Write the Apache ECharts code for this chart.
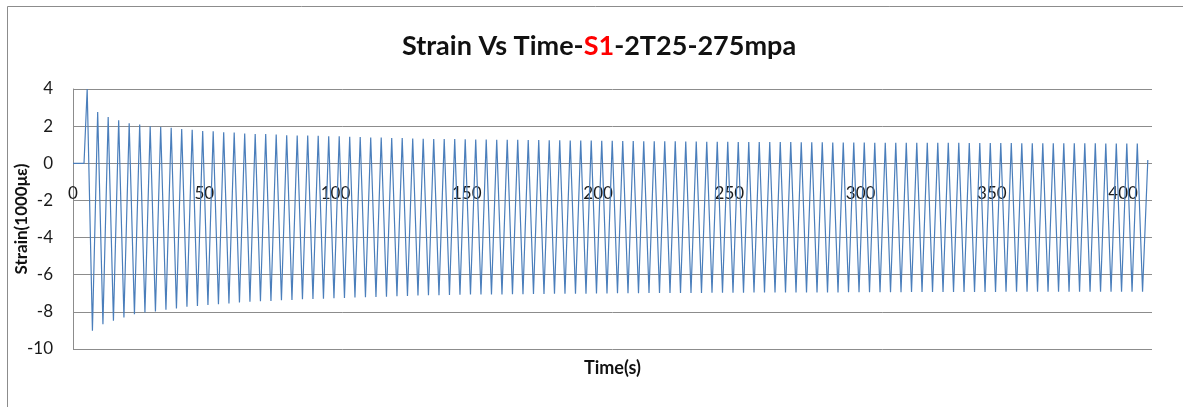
<!DOCTYPE html>
<html>
<head>
<meta charset="utf-8">
<script src="https://cdn.jsdelivr.net/npm/echarts@6/dist/echarts.min.js"></script>
<style>
html,body{margin:0;padding:0;background:#fff;}
#chart{width:1183px;height:407px;}
</style>
</head>
<body>
<div id="chart"></div>
<script>
// ---- data ----
const startTime = [0, 4.2];
const startStrain = [0, 0];

const peakTime = [
  5.4,9.4,13.4,17.4,21.4,25.4,29.4,33.4,37.4,41.4,
  45.4,49.4,53.4,57.4,61.4,65.4,69.4,73.4,77.4,81.4,
  85.4,89.4,93.4,97.4,101.4,105.4,109.4,113.4,117.4,121.4,
  125.4,129.4,133.4,137.4,141.4,145.4,149.4,153.4,157.4,161.4,
  165.4,169.4,173.4,177.4,181.4,185.4,189.4,193.4,197.4,201.4,
  205.4,209.4,213.4,217.4,221.4,225.4,229.4,233.4,237.4,241.4,
  245.4,249.4,253.4,257.4,261.4,265.4,269.4,273.4,277.4,281.4,
  285.4,289.4,293.4,297.4,301.4,305.4,309.4,313.4,317.4,321.4,
  325.4,329.4,333.4,337.4,341.4,345.4,349.4,353.4,357.4,361.4,
  365.4,369.4,373.4,377.4,381.4,385.4,389.4,393.4,397.4,401.4,
  405.4
];
const peakStrain = [
  4.00,2.76,2.49,2.31,2.16,2.09,2.00,1.95,1.91,1.84,
  1.80,1.74,1.72,1.67,1.65,1.60,1.57,1.57,1.55,1.51,
  1.50,1.50,1.48,1.46,1.46,1.43,1.41,1.39,1.39,1.36,
  1.36,1.34,1.32,1.31,1.30,1.30,1.29,1.28,1.28,1.27,
  1.27,1.26,1.25,1.25,1.24,1.24,1.23,1.23,1.22,1.21,
  1.21,1.20,1.20,1.19,1.19,1.18,1.18,1.17,1.17,1.16,
  1.16,1.16,1.15,1.15,1.15,1.14,1.14,1.14,1.13,1.13,
  1.13,1.12,1.12,1.12,1.12,1.11,1.11,1.11,1.11,1.10,
  1.10,1.10,1.10,1.10,1.09,1.09,1.09,1.09,1.09,1.08,
  1.08,1.08,1.08,1.08,1.08,1.08,1.08,1.07,1.07,1.07,
  1.07
];
const troughTime = [
  7.4,11.4,15.4,19.4,23.4,27.4,31.4,35.4,39.4,43.4,
  47.4,51.4,55.4,59.4,63.4,67.4,71.4,75.4,79.4,83.4,
  87.4,91.4,95.4,99.4,103.4,107.4,111.4,115.4,119.4,123.4,
  127.4,131.4,135.4,139.4,143.4,147.4,151.4,155.4,159.4,163.4,
  167.4,171.4,175.4,179.4,183.4,187.4,191.4,195.4,199.4,203.4,
  207.4,211.4,215.4,219.4,223.4,227.4,231.4,235.4,239.4,243.4,
  247.4,251.4,255.4,259.4,263.4,267.4,271.4,275.4,279.4,283.4,
  287.4,291.4,295.4,299.4,303.4,307.4,311.4,315.4,319.4,323.4,
  327.4,331.4,335.4,339.4,343.4,347.4,351.4,355.4,359.4,363.4,
  367.4,371.4,375.4,379.4,383.4,387.4,391.4,395.4,399.4,403.4,
  407.4
];
const troughStrain = [
  -9.02,-8.66,-8.48,-8.30,-8.13,-8.04,-7.98,-7.89,-7.82,-7.73,
  -7.68,-7.63,-7.59,-7.55,-7.50,-7.46,-7.43,-7.41,-7.38,-7.36,
  -7.32,-7.30,-7.29,-7.27,-7.25,-7.23,-7.21,-7.20,-7.18,-7.16,
  -7.14,-7.12,-7.11,-7.10,-7.09,-7.08,-7.07,-7.07,-7.06,-7.06,
  -7.05,-7.05,-7.04,-7.04,-7.03,-7.03,-7.02,-7.02,-7.01,-7.01,
  -7.00,-7.00,-7.00,-6.99,-6.99,-6.99,-6.98,-6.98,-6.98,-6.97,
  -6.97,-6.97,-6.97,-6.96,-6.96,-6.96,-6.96,-6.95,-6.95,-6.95,
  -6.95,-6.95,-6.94,-6.94,-6.94,-6.94,-6.94,-6.94,-6.93,-6.93,
  -6.93,-6.93,-6.93,-6.93,-6.93,-6.93,-6.93,-6.92,-6.92,-6.92,
  -6.92,-6.92,-6.92,-6.92,-6.92,-6.92,-6.92,-6.92,-6.92,-6.92,
  -6.92
];
const endTime = [409.4];
const endStrain = [0.18];

const yTicks = [-10, -8, -6, -4, -2, 0, 2, 4];
const xTickStep = 50;

// ---- build the series points ----
const points = [];
startTime.forEach((t, i) => points.push([t, startStrain[i]]));
peakTime.forEach((t, i) => {
  points.push([t, peakStrain[i]]);
  points.push([troughTime[i], troughStrain[i]]);
});
endTime.forEach((t, i) => points.push([t, endStrain[i]]));

const FONT = 'Lato, "Liberation Sans", sans-serif';
const GRID = '#8c8c8c';

const chart = echarts.init(document.getElementById('chart'), null, {renderer: 'canvas'});
chart.setOption({
  animation: false,
  backgroundColor: '#fff',
  title: {
    text: '{a|Strain Vs Time-}{r|S1}{a|-2T25-275mpa}',
    left: 594, top: 28, textAlign: 'center',
    textStyle: {
      rich: {
        a: {fontFamily: FONT, fontWeight: 'bold', fontSize: 27, color: '#111'},
        r: {fontFamily: FONT, fontWeight: 'bold', fontSize: 27, color: '#ff0000'}
      }
    }
  },
  graphic: [
    {type: 'line', shape: {x1: 7.5, y1: 6.5, x2: 1183, y2: 6.5}, style: {stroke: GRID, lineWidth: 1}},
    {type: 'line', shape: {x1: 7.5, y1: 6.5, x2: 7.5, y2: 407}, style: {stroke: GRID, lineWidth: 1}}
  ],
  grid: {left: 73, right: 31, top: 89, bottom: 58, containLabel: false, outerBoundsMode: 'none'},
  xAxis: {
    type: 'value', min: 0, max: 411, interval: xTickStep,
    name: 'Time(s)', nameLocation: 'middle', nameGap: 10, nameMoveOverlap: false,
    nameTextStyle: {fontFamily: FONT, fontWeight: 'bold', fontSize: 18, color: '#111', verticalAlign: 'top'},
    axisLine: {show: false, onZero: false},
    axisTick: {show: false},
    axisLabel: {margin: -164, fontFamily: FONT, fontSize: 17, color: '#1a1a1a', showMaxLabel: false, verticalAlign: 'top'},
    splitLine: {show: false}
  },
  yAxis: {
    type: 'value', min: yTicks[0], max: yTicks[yTicks.length - 1], interval: 2,
    name: 'Strain(1000με)', nameLocation: 'middle', nameGap: 43, nameRotate: 90, nameMoveOverlap: false,
    nameTextStyle: {fontFamily: FONT, fontWeight: 'bold', fontSize: 17, color: '#111'},
    axisLine: {show: true, lineStyle: {color: GRID, width: 1}},
    axisTick: {show: false},
    axisLabel: {margin: 20, fontFamily: FONT, fontSize: 17, color: '#1a1a1a'},
    splitLine: {show: true, lineStyle: {color: GRID, width: 1}}
  },
  series: [{
    type: 'line',
    data: points,
    showSymbol: false,
    symbol: 'none',
    lineStyle: {color: '#4a7ebb', width: 1.2},
    itemStyle: {color: '#4a7ebb'}
  }]
});
</script>
</body>
</html>
